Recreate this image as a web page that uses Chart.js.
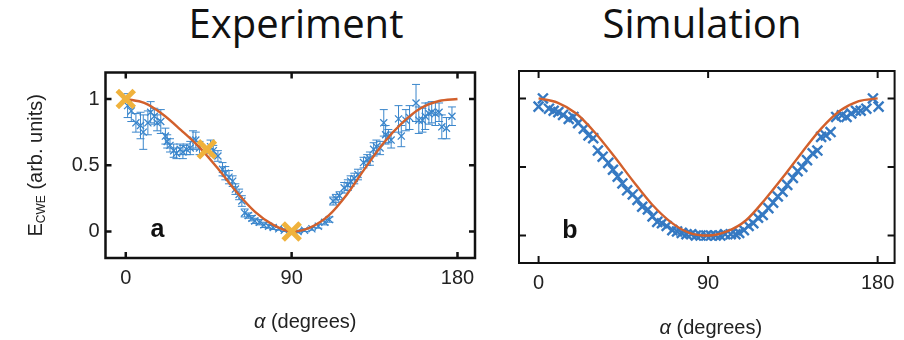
<!DOCTYPE html>
<html lang="en">
<head>
<meta charset="UTF-8">
<title>Experiment / Simulation</title>
<script src="https://cdn.jsdelivr.net/npm/chart.js"></script>
<style>
    body {
        margin: 0;
        width: 904px;
        height: 340px;
        position: relative;
        overflow: hidden;
        background: #fff;
    }
    .head {
        position: absolute;
        top: 3px;
        width: 300px;
        text-align: center;
        font-family: "Open Sans", sans-serif;
        font-size: 40px;
        line-height: 40px;
        color: #111;
    }
    canvas { position: absolute; top: 0; }
</style>
</head>
<body>
<div class="head" style="left:146px">Experiment</div>
<div class="head" style="left:552px">Simulation</div>
<canvas id="expChart" width="492" height="340" style="left:0"></canvas>
<canvas id="simChart" width="404" height="340" style="left:500px"></canvas>

<script>
// axis ticks (same on both panels)
const tickAngles = [0, 90, 180];
const tickValues = [0, 0.5, 1];
const tickValueLabels = ['0', '0.5', '1'];

// fitted curves, sampled every 10 degrees
const fitAngles = [0, 10, 20, 30, 40, 50, 60, 70, 80, 90, 100, 110, 120, 130, 140, 150, 160, 170, 180];
const expFit = [1.0, 0.97, 0.885, 0.765, 0.635, 0.475, 0.30, 0.15, 0.05, 0.0, 0.03, 0.12, 0.28, 0.48, 0.67, 0.82, 0.93, 0.985, 1.0];
const simFit = [1.0, 0.97, 0.89, 0.75, 0.58, 0.40, 0.23, 0.10, 0.02, 0.0, 0.03, 0.11, 0.26, 0.43, 0.61, 0.78, 0.91, 0.98, 1.0];

// measured E_CWE with error bars
const expAngles = [1, 3, 5.5, 8, 9.5, 12, 13.5, 15.5, 17, 19, 21.5, 22.5, 24, 26, 27.5, 29.5, 31, 33, 35, 36.5,
    38, 40, 46, 47.5, 50, 52.5, 54, 56, 58, 59.5, 61.5, 63, 64.5, 66.5, 68.5, 70, 72.5, 75, 77.5, 80,
    83, 86, 93.5, 97, 101, 104.5, 108, 110.5, 112.5, 114, 116, 118.5, 120.5, 122, 124, 126, 129, 131, 132.5, 134.5,
    136, 138, 140, 141, 142.5, 144, 148, 149.5, 152, 154, 157.5, 159, 161, 162.5, 164.5, 166, 168, 170, 171.5, 174, 177];
const expValues = [0.95, 0.91, 0.82, 0.80, 0.75, 0.82, 0.90, 0.87, 0.82, 0.83, 0.72, 0.68, 0.65, 0.61, 0.59, 0.62, 0.60, 0.62, 0.63, 0.69,
    0.69, 0.63, 0.64, 0.61, 0.57, 0.47, 0.44, 0.41, 0.38, 0.32, 0.28, 0.23, 0.14, 0.12, 0.10, 0.08, 0.07, 0.05, 0.04, 0.03,
    0.02, 0.01, 0.0, 0.01, 0.02, 0.04, 0.07, 0.09, 0.23, 0.25, 0.27, 0.33, 0.35, 0.38, 0.40, 0.43, 0.52, 0.54, 0.55, 0.62,
    0.64, 0.63, 0.82, 0.73, 0.72, 0.69, 0.85, 0.72, 0.84, 0.86, 0.97, 0.84, 0.84, 0.87, 0.89, 0.90, 0.89, 0.90, 0.79, 0.78, 0.87];
const expErrors = [0.09, 0.08, 0.07, 0.10, 0.13, 0.09, 0.08, 0.06, 0.06, 0.09, 0.06, 0.05, 0.05, 0.05, 0.04, 0.04, 0.05, 0.04, 0.05, 0.07,
    0.06, 0.05, 0.05, 0.04, 0.04, 0.05, 0.05, 0.05, 0.04, 0.04, 0.04, 0.04, 0.03, 0.02, 0.02, 0.02, 0.02, 0.02, 0.015, 0.015,
    0.01, 0.01, 0.01, 0.01, 0.01, 0.015, 0.02, 0.02, 0.03, 0.03, 0.03, 0.04, 0.04, 0.04, 0.04, 0.04, 0.04, 0.04, 0.05, 0.05,
    0.05, 0.05, 0.10, 0.07, 0.05, 0.06, 0.10, 0.08, 0.08, 0.09, 0.14, 0.10, 0.09, 0.10, 0.08, 0.08, 0.09, 0.07, 0.09, 0.08, 0.07];

// highlighted angles (0, 45, 90)
const markAngles = [0, 44, 90];
const markValues = [1.0, 0.62, 0.0];

// simulated E_CWE
const simAngles = [0, 2.3, 5.5, 8, 10.5, 13, 16, 18.5, 21, 24, 26.5, 29, 31.5, 34, 37, 39.5, 42, 44.5, 47, 50,
    52.5, 55, 58, 60.5, 63, 65.5, 68, 71, 73.5, 76, 78.5, 81, 83.5, 86, 89, 91.5, 94, 96.5, 99, 102,
    104.5, 106.5, 109, 111.5, 114, 116.5, 119, 122, 124.5, 127, 129.5, 132, 135, 137.5, 140, 142.5, 145.5, 148, 150, 152.5,
    155, 158, 161, 163.5, 166, 168.5, 171, 174, 177.5, 180.5];
const simValues = [0.94, 1.0, 0.925, 0.91, 0.90, 0.88, 0.85, 0.865, 0.82, 0.78, 0.73, 0.71, 0.62, 0.575, 0.53, 0.48, 0.43, 0.38, 0.33, 0.30,
    0.26, 0.21, 0.19, 0.14, 0.10, 0.09, 0.07, 0.04, 0.03, 0.02, 0.01, 0.01, 0.0, 0.0, 0.0, 0.0, 0.0, 0.0, 0.01, 0.01,
    0.01, 0.02, 0.04, 0.07, 0.09, 0.13, 0.15, 0.20, 0.24, 0.285, 0.32, 0.37, 0.42, 0.47, 0.50, 0.55, 0.60, 0.62, 0.72, 0.73,
    0.755, 0.865, 0.877, 0.865, 0.89, 0.91, 0.91, 0.925, 1.0, 0.94];

const BLUE = '#3a86cc';
const SIM_BLUE = '#3579c2';
const ORANGE = '#d2602c';
const GOLD = '#f0b23c';
const INK = '#222';
const TEXT_FONT = '"Liberation Sans", Arial, sans-serif';

Chart.defaults.font.family = TEXT_FONT;
Chart.defaults.color = INK;

function toPoints(xs, ys) {
    return xs.map((x, i) => ({ x: x, y: ys[i] }));
}

// vertical error bars with caps, under the markers
const errorBars = {
    id: 'errorBars',
    beforeDatasetsDraw(chart, args, opts) {
        if (!opts.errors) return;
        const { ctx, scales: { x, y } } = chart;
        ctx.save();
        ctx.strokeStyle = opts.color;
        ctx.lineWidth = 1;
        ctx.beginPath();
        opts.angles.forEach((a, i) => {
            const px = x.getPixelForValue(a);
            const top = y.getPixelForValue(opts.values[i] + opts.errors[i]);
            const bot = y.getPixelForValue(opts.values[i] - opts.errors[i]);
            ctx.moveTo(px, top); ctx.lineTo(px, bot);
            ctx.moveTo(px - opts.cap, top); ctx.lineTo(px + opts.cap, top);
            ctx.moveTo(px - opts.cap, bot); ctx.lineTo(px + opts.cap, bot);
        });
        ctx.stroke();
        ctx.restore();
    }
};

// box around the plot with inward ticks on all four sides
const frame = {
    id: 'frame',
    afterDatasetsDraw(chart, args, opts) {
        const { ctx, chartArea: a, scales: { x, y } } = chart;
        ctx.save();
        ctx.strokeStyle = '#111';
        ctx.lineWidth = opts.width;
        ctx.strokeRect(a.left, a.top, a.right - a.left, a.bottom - a.top);
        ctx.beginPath();
        tickAngles.forEach(v => {
            const px = x.getPixelForValue(v);
            ctx.moveTo(px, a.bottom); ctx.lineTo(px, a.bottom - opts.tick);
            ctx.moveTo(px, a.top); ctx.lineTo(px, a.top + opts.tick);
        });
        tickValues.forEach(v => {
            const py = y.getPixelForValue(v);
            ctx.moveTo(a.left, py); ctx.lineTo(a.left + opts.tick, py);
            ctx.moveTo(a.right, py); ctx.lineTo(a.right - opts.tick, py);
        });
        ctx.stroke();
        ctx.restore();
    }
};

// axis titles (italic alpha, subscript CWE) and the panel letter
const axisText = {
    id: 'axisText',
    afterDraw(chart, args, opts) {
        const { ctx, chartArea: a } = chart;
        ctx.save();
        ctx.fillStyle = INK;
        ctx.textBaseline = 'middle';

        // x title
        const big = '20px ' + TEXT_FONT;
        ctx.font = 'italic ' + big;
        const wA = ctx.measureText('α').width;
        ctx.font = big;
        const wRest = ctx.measureText(' (degrees)').width;
        let tx = (a.left + a.right) / 2 + opts.xTitleDx - (wA + wRest) / 2;
        ctx.textAlign = 'left';
        ctx.font = 'italic ' + big;
        ctx.fillText('α', tx, opts.xTitleY);
        ctx.font = big;
        ctx.fillText(' (degrees)', tx + wA, opts.xTitleY);

        // y title, rotated
        if (opts.yTitle) {
            const small = '12px ' + TEXT_FONT;
            ctx.font = big;
            const wE = ctx.measureText('E').width;
            const wTail = ctx.measureText(' (arb. units)').width;
            ctx.font = small;
            const wSub = ctx.measureText('CWE').width;
            const total = wE + wSub + wTail;
            ctx.translate(opts.yTitleX, (a.top + a.bottom) / 2);
            ctx.rotate(-Math.PI / 2);
            ctx.textBaseline = 'alphabetic';
            let cx = -total / 2;
            ctx.font = big;
            ctx.fillText('E', cx, 7);
            cx += wE;
            ctx.font = small;
            ctx.fillText('CWE', cx, 10);
            cx += wSub;
            ctx.font = big;
            ctx.fillText(' (arb. units)', cx, 7);
            ctx.setTransform(1, 0, 0, 1, 0, 0);
        }

        // panel letter
        ctx.font = 'bold 25px ' + TEXT_FONT;
        ctx.textAlign = 'center';
        ctx.textBaseline = 'alphabetic';
        ctx.fillStyle = '#111';
        ctx.fillText(opts.letter, a.left + opts.letterDx, a.bottom - opts.letterDy);
        ctx.restore();
    }
};

function makeScales(xRange, yWidth, xHeight, showYLabels) {
    return {
        x: {
            type: 'linear',
            min: xRange[0],
            max: xRange[1],
            afterBuildTicks: s => { s.ticks = tickAngles.map(v => ({ value: v })); },
            afterFit: s => { s.height = xHeight; },
            grid: { display: false, drawTicks: false },
            border: { display: false },
            ticks: { padding: 8, maxRotation: 0, autoSkip: false, font: { size: 20 }, color: INK }
        },
        y: {
            type: 'linear',
            min: -0.2,
            max: 1.2,
            afterBuildTicks: s => { s.ticks = tickValues.map(v => ({ value: v })); },
            afterFit: s => { s.width = yWidth; },
            grid: { display: false, drawTicks: false },
            border: { display: false },
            ticks: {
                display: showYLabels,
                padding: 6,
                font: { size: 20 },
                color: INK,
                callback: v => tickValueLabels[tickValues.indexOf(v)]
            }
        }
    };
}

// Experiment panel
new Chart(document.getElementById('expChart'), {
    type: 'scatter',
    data: {
        datasets: [
            {
                data: toPoints(markAngles, markValues),
                pointStyle: 'crossRot',
                pointRadius: 12,
                pointBorderWidth: 5,
                pointBorderColor: GOLD
            },
            {
                data: toPoints(fitAngles, expFit),
                showLine: true,
                borderColor: ORANGE,
                borderWidth: 2.4,
                cubicInterpolationMode: 'monotone',
                pointRadius: 0
            },
            {
                data: toPoints(expAngles, expValues),
                pointStyle: 'crossRot',
                pointRadius: 5,
                pointBorderWidth: 1.3,
                pointBorderColor: BLUE
            }
        ]
    },
    options: {
        responsive: false,
        animation: false,
        devicePixelRatio: 1,
        layout: { padding: { left: 0, right: 8, top: 72.5, bottom: 0 } },
        scales: makeScales([-11, 189.5], 105.5, 82, true),
        plugins: {
            legend: { display: false },
            tooltip: { enabled: false },
            errorBars: { angles: expAngles, values: expValues, errors: expErrors, color: BLUE, cap: 4 },
            frame: { width: 2.5, tick: 6 },
            axisText: { xTitleDx: 15, xTitleY: 322, yTitle: true, yTitleX: 35, letter: 'a', letterDx: 52, letterDy: 21 }
        }
    },
    plugins: [errorBars, frame, axisText]
});

// Simulation panel
new Chart(document.getElementById('simChart'), {
    type: 'scatter',
    data: {
        datasets: [
            {
                data: toPoints(fitAngles, simFit),
                showLine: true,
                borderColor: ORANGE,
                borderWidth: 2.4,
                cubicInterpolationMode: 'monotone',
                pointRadius: 0
            },
            {
                data: toPoints(simAngles, simValues),
                pointStyle: 'crossRot',
                pointRadius: 7,
                pointBorderWidth: 2.4,
                pointBorderColor: SIM_BLUE
            }
        ]
    },
    options: {
        responsive: false,
        animation: false,
        devicePixelRatio: 1,
        layout: { padding: { left: 0, right: 2, top: 71, bottom: 0 } },
        scales: makeScales([-10.4, 189], 19, 77, false),
        plugins: {
            legend: { display: false },
            tooltip: { enabled: false },
            frame: { width: 2, tick: 7 },
            axisText: { xTitleDx: 4, xTitleY: 328, yTitle: false, letter: 'b', letterDx: 51, letterDy: 25 }
        }
    },
    plugins: [frame, axisText]
});
</script>
</body>
</html>
